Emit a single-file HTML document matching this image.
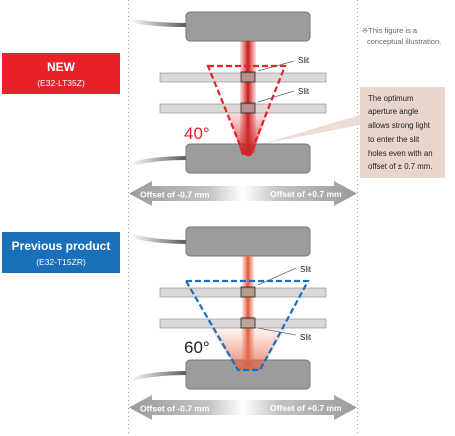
<!DOCTYPE html>
<html><head><meta charset="utf-8"><style>
html,body{margin:0;padding:0;background:#fff;}
svg{display:block;font-family:"Liberation Sans",sans-serif;}
</style></head><body>
<svg width="455" height="436" viewBox="0 0 455 436" xmlns="http://www.w3.org/2000/svg">
<defs>
<linearGradient id="beamR" x1="0" x2="1" y1="0" y2="0">
<stop offset="0" stop-color="#e03030" stop-opacity="0.15"/><stop offset="0.5" stop-color="#c81818"/><stop offset="1" stop-color="#e03030" stop-opacity="0.15"/></linearGradient>
<linearGradient id="beamO" x1="0" x2="1" y1="0" y2="0">
<stop offset="0" stop-color="#ee6a50" stop-opacity="0.15"/><stop offset="0.5" stop-color="#e05535"/><stop offset="1" stop-color="#ee6a50" stop-opacity="0.15"/></linearGradient>
<linearGradient id="coneR" x1="0" x2="0" y1="0" y2="1">
<stop offset="0" stop-color="#e04040" stop-opacity="0.15"/><stop offset="1" stop-color="#c82020" stop-opacity="0.9"/></linearGradient>
<linearGradient id="coneO" x1="0" x2="0" y1="0" y2="1">
<stop offset="0" stop-color="#f08a70" stop-opacity="0.1"/><stop offset="1" stop-color="#e06040" stop-opacity="0.8"/></linearGradient>
<linearGradient id="arr" x1="0" x2="1" y1="0" y2="0">
<stop offset="0" stop-color="#9a9a9c"/><stop offset="0.35" stop-color="#c4c4c6"/><stop offset="0.5" stop-color="#ffffff"/><stop offset="0.65" stop-color="#c4c4c6"/><stop offset="1" stop-color="#9a9a9c"/></linearGradient>
<linearGradient id="cab" x1="0" x2="1"><stop offset="0" stop-color="#fff"/><stop offset="1" stop-color="#555"/></linearGradient>
</defs>
<!-- dotted lines -->
<line x1="128.5" y1="0" x2="128.5" y2="436" stroke="#999" stroke-width="1" stroke-dasharray="1,3"/>
<line x1="357.5" y1="0" x2="357.5" y2="436" stroke="#999" stroke-width="1" stroke-dasharray="1,3"/>

<!-- labels -->
<rect x="2" y="53" width="118" height="41" fill="#e8202a"/>
<text x="61" y="71" font-size="12" font-weight="bold" fill="#fff" text-anchor="middle">NEW</text>
<text x="61" y="86" font-size="8.5" fill="#fff" text-anchor="middle">(E32-LT35Z)</text>
<rect x="2" y="232" width="118" height="41" fill="#1a6fba"/>
<text x="61" y="250" font-size="12" font-weight="bold" fill="#fff" text-anchor="middle">Previous product</text>
<text x="61" y="265" font-size="8.5" fill="#fff" text-anchor="middle">(E32-T15ZR)</text>

<text x="362" y="33" font-size="7.5" fill="#666">※This figure is a</text>
<text x="367" y="44" font-size="7.5" fill="#666">conceptual illustration.</text>

<!-- callout -->
<polygon points="360,115 360,125 262,144" fill="#e8d5cb" opacity="0.8"/>
<rect x="360" y="87" width="85" height="91" fill="#e8d5cb"/>
<g font-size="7.8" fill="#222">
<text x="368" y="101">The optimum</text>
<text x="368" y="114">aperture angle</text>
<text x="368" y="128">allows strong light</text>
<text x="368" y="142">to enter the slit</text>
<text x="368" y="156">holes even with an</text>
<text x="368" y="169">offset of ± 0.7 mm.</text>
</g>

<!-- TOP DIAGRAM -->
<path d="M130,20 Q150,25 188,25" stroke="url(#cab)" stroke-width="4" fill="none"/>
<path d="M130,165 Q150,158 188,158" stroke="url(#cab)" stroke-width="4" fill="none"/>
<rect x="186" y="12" width="124" height="29" rx="4" fill="#9c9c9e" stroke="#777"/>
<rect x="186" y="144" width="124" height="29" rx="4" fill="#9c9c9e" stroke="#777"/>
<rect x="240" y="41" width="16" height="112" fill="url(#beamR)"/>
<polygon points="228,113 268,113 252,155 242,155" fill="url(#coneR)"/>
<rect x="160" y="73" width="166" height="9" fill="#dcd8d8" stroke="#888" stroke-width="0.6"/>
<rect x="160" y="104" width="166" height="9" fill="#dcd8d8" stroke="#888" stroke-width="0.6"/>
<rect x="241" y="72" width="14" height="10" fill="#a06060" fill-opacity="0.6" stroke="#222" stroke-width="0.8"/>
<rect x="241" y="103" width="14" height="10" fill="#a06060" fill-opacity="0.6" stroke="#222" stroke-width="0.8"/>
<polygon points="208,66 285,66 250,155 244,155" fill="none" stroke="#e8202a" stroke-width="2.2" stroke-dasharray="6,3"/>
<line x1="294" y1="61" x2="258" y2="71" stroke="#666" stroke-width="0.7"/>
<line x1="294" y1="91" x2="258" y2="102" stroke="#666" stroke-width="0.7"/>
<text x="298" y="63" font-size="8" fill="#222">Slit</text>
<text x="298" y="94" font-size="8" fill="#222">Slit</text>
<text x="184" y="139" font-size="17" fill="#e8202a">40°</text>

<polygon points="129,193.5 152,181 152,186 334,186 334,181 357,193.5 334,206 334,201 152,201 152,206" fill="url(#arr)"/>
<text x="140" y="197.5" font-size="8.5" font-weight="bold" fill="#fff">Offset of -0.7 mm</text>
<text x="270" y="197" font-size="8.5" font-weight="bold" fill="#fff">Offset of +0.7 mm</text>

<!-- BOTTOM DIAGRAM -->
<path d="M130,235 Q150,242 188,242" stroke="url(#cab)" stroke-width="4" fill="none"/>
<path d="M130,380 Q150,373 188,373" stroke="url(#cab)" stroke-width="4" fill="none"/>
<rect x="186" y="227" width="124" height="29" rx="4" fill="#9c9c9e" stroke="#777"/>
<rect x="186" y="360" width="124" height="29" rx="4" fill="#9c9c9e" stroke="#777"/>
<rect x="242" y="256" width="12" height="110" fill="url(#beamO)"/>
<polygon points="210,328 286,328 260,370 238,370" fill="url(#coneO)"/>
<rect x="160" y="288" width="166" height="9" fill="#dcd8d8" stroke="#888" stroke-width="0.6"/>
<rect x="160" y="319" width="166" height="9" fill="#dcd8d8" stroke="#888" stroke-width="0.6"/>
<rect x="241" y="287" width="14" height="10" fill="#a07060" fill-opacity="0.6" stroke="#222" stroke-width="0.8"/>
<rect x="241" y="318" width="14" height="10" fill="#a07060" fill-opacity="0.5" stroke="#222" stroke-width="0.8"/>
<polygon points="186,281 308,281 260,370 238,370" fill="none" stroke="#1a6fba" stroke-width="2.2" stroke-dasharray="6,3"/>
<line x1="296" y1="268" x2="258" y2="285" stroke="#666" stroke-width="0.7"/>
<line x1="296" y1="335" x2="258" y2="328" stroke="#666" stroke-width="0.7"/>
<text x="300" y="272" font-size="8" fill="#222">Slit</text>
<text x="300" y="340" font-size="8" fill="#222">Slit</text>
<text x="184" y="353" font-size="17" fill="#222">60°</text>

<polygon points="129,407.5 152,395 152,400 334,400 334,395 357,407.5 334,420 334,415 152,415 152,420" fill="url(#arr)"/>
<text x="140" y="411.5" font-size="8.5" font-weight="bold" fill="#fff">Offset of -0.7 mm</text>
<text x="270" y="411" font-size="8.5" font-weight="bold" fill="#fff">Offset of +0.7 mm</text>
</svg>
</body></html>
